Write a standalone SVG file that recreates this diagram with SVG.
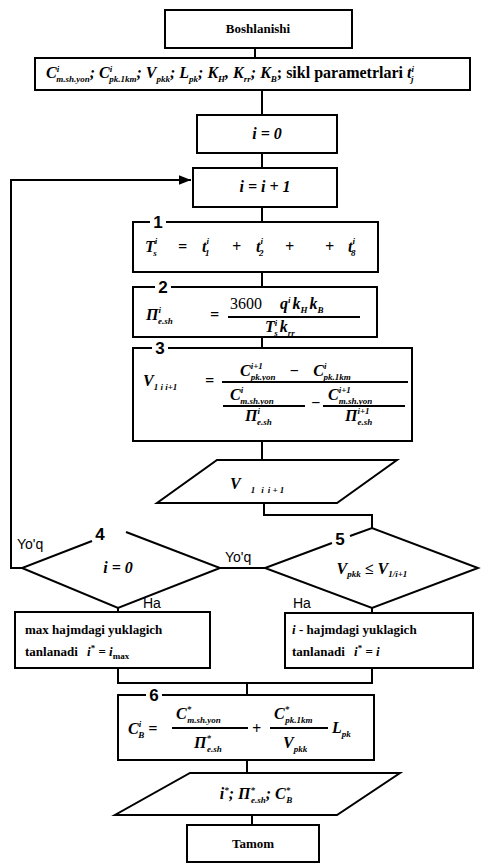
<svg xmlns="http://www.w3.org/2000/svg" width="488" height="866" viewBox="0 0 488 866">
<style>
.b{fill:#fff;stroke:#000;stroke-width:2}
.c{fill:none;stroke:#000;stroke-width:2}
.t{font-family:"Liberation Serif",serif;font-weight:bold;font-size:13px}
.m{font-family:"Liberation Serif",serif;font-weight:bold;font-style:italic;font-size:16px}
.s{font-size:9px}
.a{font-family:"Liberation Sans",Arial,sans-serif;font-size:14px}
.n{font-family:"Liberation Sans",Arial,sans-serif;font-weight:bold;font-size:17px}
</style>
<defs>
<marker id="ar" viewBox="0 0 10 10" refX="10" refY="5" markerWidth="6" markerHeight="6" orient="auto"><path d="M0,1 L10,5 L0,9 z" fill="#000"/></marker>
</defs>
<rect width="488" height="866" fill="#fff"/>
<g id="connectors">
<path class="c" d="M255,48 V58"/>
<path class="c" d="M262,90 V115"/>
<path class="c" d="M262,153 V168"/>
<path class="c" d="M262,207 V222"/>
<path class="c" d="M262,272 V287"/>
<path class="c" d="M262,337 V348"/>
<path class="c" d="M262,441 V460"/>
<path class="c" d="M264,503 V515 H372 V528"/>
<path class="c" d="M22,568 H11 V180 H191" marker-end="url(#ar)"/>
<path class="c" d="M220,568 H265"/>
<path class="c" d="M118,608 V612"/>
<path class="c" d="M372,608 V613"/>
<path class="c" d="M118,668 V683 H372 V668"/>
<path class="c" d="M247,683 V695"/>
<path class="c" d="M247,760 V773"/>
<path class="c" d="M252,815 V825"/>
</g>
<g id="start">
<rect class="b" x="165" y="10" width="187" height="38"/>
<text class="t" x="258" y="33" text-anchor="middle">Boshlanishi</text>
</g>
<g id="params">
<rect class="b" x="35" y="58" width="435" height="32"/>
<text class="m" x="46" y="78" font-size="14">C<tspan class="s" dy="-6">i</tspan><tspan class="s" dx="-3" dy="10">m.sh.yon</tspan><tspan dy="-4">; C</tspan><tspan class="s" dy="-6">i</tspan><tspan class="s" dx="-3" dy="10">pk.1km</tspan><tspan dy="-4">; V</tspan><tspan class="s" dy="4">pkk</tspan><tspan dy="-4">; L</tspan><tspan class="s" dy="4">pk</tspan><tspan dy="-4">; K</tspan><tspan class="s" dy="4">H</tspan><tspan dy="-4">, K</tspan><tspan class="s" dy="4">rr</tspan><tspan dy="-4">; K</tspan><tspan class="s" dy="4">B</tspan><tspan dy="-4" font-style="normal">; sikl parametrlari </tspan><tspan>t</tspan><tspan class="s" dy="-6">i</tspan><tspan class="s" dx="-3" dy="10">j</tspan></text>
</g>
<g id="init">
<rect class="b" x="197" y="115" width="140" height="38"/>
<text class="m" x="267" y="139" text-anchor="middle" font-size="14">i = 0</text>
</g>
<g id="inc">
<rect class="b" x="193" y="168" width="144" height="39"/>
<text class="m" x="265" y="192" text-anchor="middle" font-size="14">i = i + 1</text>
</g>
<g id="n1">
<rect class="b" x="133" y="222" width="245" height="50"/>
<rect x="150" y="218" width="16" height="8" fill="#fff"/>
<text class="n" x="158" y="228" text-anchor="middle">1</text>
<text class="m" x="145" y="252" font-size="20">T<tspan class="s" font-size="11" dy="-8">i</tspan><tspan class="s" font-size="11" dx="-4" dy="12">s</tspan></text>
<text class="m" x="178" y="252" font-size="20">=</text>
<text class="m" x="202" y="252" font-size="20">t<tspan class="s" font-size="11" dy="-8">i</tspan><tspan class="s" font-size="11" dx="-4" dy="12">1</tspan></text>
<text class="m" x="232" y="252" font-size="20">+</text>
<text class="m" x="256" y="252" font-size="20">t<tspan class="s" font-size="11" dy="-8">i</tspan><tspan class="s" font-size="11" dx="-4" dy="12">2</tspan></text>
<text class="m" x="285" y="252" font-size="20">+</text>
<text class="m" x="325" y="252" font-size="20">+</text>
<text class="m" x="348" y="252" font-size="20">t<tspan class="s" font-size="11" dy="-8">i</tspan><tspan class="s" font-size="11" dx="-4" dy="12">8</tspan></text>
</g>
<g id="n2">
<rect class="b" x="133" y="287" width="244" height="50"/>
<rect x="155" y="283" width="16" height="8" fill="#fff"/>
<text class="n" x="163" y="293" text-anchor="middle">2</text>
<text class="m" x="146" y="320" font-size="17">П<tspan class="s" dy="-7">i</tspan><tspan class="s" dx="-3" dy="11">e.sh</tspan></text>
<text class="m" x="210" y="320">=</text>
<text class="m" x="230" y="309" font-size="15"><tspan font-style="normal" font-weight="normal">3600</tspan><tspan dx="18">q</tspan><tspan class="s" dy="-6">i</tspan><tspan dx="2" dy="6">k</tspan><tspan class="s" dy="4">H</tspan><tspan dx="2" dy="-4">k</tspan><tspan class="s" dy="4">B</tspan></text>
<path class="c" d="M228,317 H360" stroke-width="1.5"/>
<text class="m" x="265" y="332" font-size="15">T<tspan class="s" dy="-6">i</tspan><tspan class="s" dx="-3" dy="10">s</tspan><tspan dx="2" dy="-4">k</tspan><tspan class="s" dy="4">rr</tspan></text>
</g>
<g id="n3">
<rect class="b" x="133" y="348" width="279" height="93"/>
<rect x="152" y="344" width="16" height="8" fill="#fff"/>
<text class="n" x="160" y="354" text-anchor="middle">3</text>
<text class="m" x="143" y="386">V<tspan class="s" dy="4">1 i i+1</tspan></text>
<text class="m" x="205" y="386">=</text>
<text class="m" x="240" y="376" font-size="15">C<tspan class="s" dy="-7">i+1</tspan><tspan class="s" dx="-12" dy="11">pk.yon</tspan><tspan dx="14" dy="-4">−</tspan><tspan dx="14">C</tspan><tspan class="s" dy="-7">i</tspan><tspan class="s" dx="-3" dy="11">pk.1km</tspan></text>
<path class="c" d="M222,382 H408" stroke-width="1.5"/>
<text class="m" x="230" y="400" font-size="15">C<tspan class="s" dy="-7">i</tspan><tspan class="s" dx="-3" dy="11">m.sh.yon</tspan></text>
<path class="c" d="M223,406 H305" stroke-width="1.5"/>
<text class="m" x="245" y="421" font-size="15">П<tspan class="s" dy="-7">i</tspan><tspan class="s" dx="-3" dy="11">e.sh</tspan></text>
<text class="m" x="311" y="408" font-size="15">−</text>
<text class="m" x="328" y="400" font-size="15">C<tspan class="s" dy="-7">i+1</tspan><tspan class="s" dx="-12" dy="11">m.sh.yon</tspan></text>
<path class="c" d="M323,406 H405" stroke-width="1.5"/>
<text class="m" x="345" y="421" font-size="15">П<tspan class="s" dy="-7">i+1</tspan><tspan class="s" dx="-12" dy="11">e.sh</tspan></text>
</g>
<g id="outV">
<polygon class="b" points="217,460 397,460 337,503 157,503"/>
<text class="m" x="230" y="489" font-size="18">V<tspan class="s" font-size="11" dx="10" dy="4">1</tspan><tspan class="s" font-size="11" dx="6">i</tspan><tspan class="s" font-size="11" dx="4">i + 1</tspan></text>
</g>
<g id="d4">
<path class="b" d="M92,541 L22,568 L118,608 L220,568 L126,532"/>
<text class="n" x="100" y="540" text-anchor="middle" font-size="18">4</text>
<text class="m" x="118" y="573" text-anchor="middle" font-size="14">i = 0</text>
</g>
<g id="d5">
<path class="b" d="M332,543 L265,568 L372,608 L478,568 L372,528 L350,536"/>
<text class="n" x="340" y="545" text-anchor="middle" font-size="18">5</text>
<text class="m" x="372" y="574" text-anchor="middle" font-size="13">V<tspan class="s" dy="3">pkk</tspan><tspan dy="-3"> ≤ V</tspan><tspan class="s" dy="3">1/i+1</tspan></text>
</g>
<g id="labels">
<text class="a" x="17" y="549">Yo'q</text>
<text class="a" x="225" y="562">Yo'q</text>
<text class="a" x="143" y="608">Ha</text>
<text class="a" x="293" y="608">Ha</text>
</g>
<g id="boxL">
<rect class="b" x="15" y="612" width="195" height="56"/>
<text class="t" x="25" y="634">max hajmdagi yuklagich</text>
<text class="t" x="25" y="656">tanlanadi <tspan dx="6" font-style="italic">i</tspan><tspan class="s" dy="-5">*</tspan><tspan dy="5"> = </tspan><tspan font-style="italic">i</tspan><tspan class="s" dy="3">max</tspan></text>
</g>
<g id="boxR">
<rect class="b" x="285" y="613" width="188" height="55"/>
<text class="t" x="292" y="634"><tspan font-style="italic">i</tspan> - hajmdagi yuklagich</text>
<text class="t" x="292" y="656">tanlanadi <tspan dx="6" font-style="italic">i</tspan><tspan class="s" dy="-5">*</tspan><tspan dy="5"> = </tspan><tspan font-style="italic">i</tspan></text>
</g>
<g id="n6">
<rect class="b" x="118" y="695" width="256" height="65"/>
<rect x="146" y="691" width="16" height="8" fill="#fff"/>
<text class="n" x="154" y="701" text-anchor="middle">6</text>
<text class="m" x="128" y="734" font-size="18">C<tspan class="s" dy="-7">i</tspan><tspan class="s" dx="-3" dy="11">B</tspan><tspan dx="4" dy="-4">=</tspan></text>
<text class="m" x="176" y="719" font-size="16">C<tspan class="s" dy="-7">*</tspan><tspan class="s" dx="-4" dy="11">m.sh.yon</tspan></text>
<path class="c" d="M172,728 H248" stroke-width="1.5"/>
<text class="m" x="194" y="748" font-size="16">П<tspan class="s" dy="-7">*</tspan><tspan class="s" dx="-4" dy="11">e.sh</tspan></text>
<text class="m" x="252" y="734" font-size="18">+</text>
<text class="m" x="274" y="719" font-size="16">C<tspan class="s" dy="-7">*</tspan><tspan class="s" dx="-4" dy="11">pk.1km</tspan></text>
<path class="c" d="M270,728 H328" stroke-width="1.5"/>
<text class="m" x="283" y="748" font-size="16">V<tspan class="s" dy="4">pkk</tspan></text>
<text class="m" x="332" y="733" font-size="16">L<tspan class="s" dy="4">pk</tspan></text>
</g>
<g id="out">
<polygon class="b" points="190,773 400,773 337,815 115,815"/>
<text class="m" x="256" y="799" text-anchor="middle" font-size="15">i<tspan class="s" dy="-6">*</tspan><tspan dy="6">; П</tspan><tspan class="s" dy="-6">*</tspan><tspan class="s" dx="-4" dy="10">e.sh</tspan><tspan dy="-4">; C</tspan><tspan class="s" dy="-6">*</tspan><tspan class="s" dx="-4" dy="10">B</tspan></text>
</g>
<g id="end">
<rect class="b" x="187" y="825" width="132" height="37"/>
<text class="t" x="253" y="848" text-anchor="middle">Tamom</text>
</g>
</svg>
